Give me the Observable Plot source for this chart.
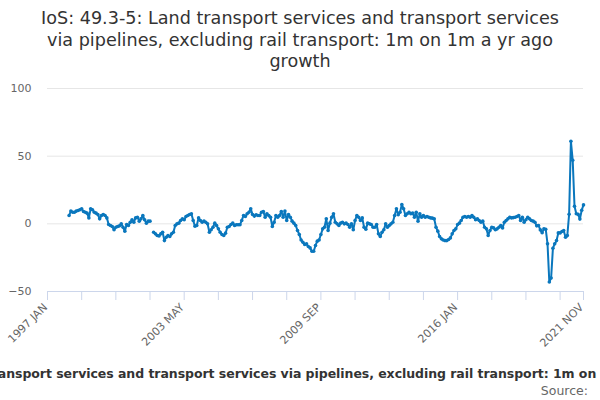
<!DOCTYPE html>
<html>
<head>
<meta charset="utf-8">
<script src="https://cdn.jsdelivr.net/npm/d3@7"></script>
<script src="https://cdn.jsdelivr.net/npm/@observablehq/plot@0.6"></script>
<style>
  html, body { margin: 0; padding: 0; background: #fff; }
  body { width: 600px; height: 400px; position: relative; overflow: hidden; font-family: "DejaVu Sans", sans-serif; }
  #title { position: absolute; top: 8px; left: 0; width: 600px; text-align: center; font-size: 17.6px; line-height: 21.5px; color: #333; }
  #chart { position: absolute; top: 75px; left: 0; }
  #caption { position: absolute; top: 366px; left: 0; width: 600px; display: flex; justify-content: center; overflow: hidden; white-space: nowrap; font-size: 12.5px; letter-spacing: -0.05px; font-weight: bold; color: #333; }
  #caption span { flex: none; }
  #source { position: absolute; top: 383px; right: 12px; font-size: 12.5px; color: #666; }
</style>
</head>
<body>
<div id="title">IoS: 49.3-5: Land transport services and transport services<br>via pipelines, excluding rail transport: 1m on 1m a yr ago<br>growth</div>
<div id="chart"></div>
<div id="caption"><span>IoS: 49.3-5: Land transport services and transport services via pipelines, excluding rail transport: 1m on 1m a yr ago growth</span></div>
<div id="source">Source:</div>
<script>
const startYear = 1997;
const monthNames = ["JAN","FEB","MAR","APR","MAY","JUN","JUL","AUG","SEP","OCT","NOV","DEC"];
const tickLabels = ["1997 JAN","2003 MAY","2009 SEP","2016 JAN","2021 NOV"];
const yTicks = [-50, 0, 50, 100];

// 1m on 1m a yr ago growth (%), one row per year from 1997 JAN to 2021 NOV
const values = [
  null, null, null, null, null, null, null, null, null, null, null, null,          // 1997
  6.2, 9.4, 8.6, 8.6, 9.4, 9.9, 10.4, 11.1, 9.1, 8.6, 7.9, 4.4,                    // 1998
  11.1, 10.4, 8.6, 7.9, 6.9, 3.7, 6.2, 6.9, 6.2, 4.4, -0.5, -1.2,                  // 1999
  -2, -4.4, -2.5, -2, -1.5, 0, -2.5, -5.4, -0.5, -1.2, 1.2, 3,                     // 2000
  1.2, 4.4, 4.9, 2, 3.7, 6.2, 3, 0.5, 2, 2, null, -6.2,                            // 2001
  -7.4, -8.6, -8.9, -7.4, -6.2, -12.4, -9.9, -8.6, -9.4, -7.4, -6.2, -1.2,         // 2002
  0, 0.5, 2.5, 3.7, 3, 5.4, 6.2, 6.9, 7.4, 2.5, -1.7, -1.2,                        // 2003
  4.4, 2.5, 1.2, 2, 1.2, 0, -6.2, -4.4, -2.5, 0.5, -1.2, -3.7,                     // 2004
  -6.2, -7.9, -8.6, -6.9, -2.5, -2, -0.5, 0.5, -1.2, -0.7, -0.7, -0.7,             // 2005
  2.5, 6.2, 5.4, 7.4, 8.6, 11.1, 6.9, 5.7, 6.7, 6.2, 6.2, 8.6,                     // 2006
  9.1, 4.9, 7.4, 6.2, 4.9, -2, 1.2, 6.2, 4.9, 6.2, 9.1, 4.9,                       // 2007
  9.4, 2.5, 6.9, 4.9, 2, 0.5, -1.2, -4.9, -7.9, -12, -13.6, -15.3,                 // 2008
  -14.8, -16.8, -17.8, -20.3, -20.3, -16, -12.8, -11.9, -7.9, -3.7, -2.5, 3.7,     // 2009
  -4.9, 0.5, 4.9, 7.4, 1.2, 0, -1.2, 0.5, 1.2, 0, 0.5, -0.5,                       // 2010
  -2.5, 0, -4.4, 2.5, 6.2, 4.9, 2.5, 4.4, -2.5, -4, 0.5, 0,                        // 2011
  -0.5, -2.5, -2.5, -0.5, -7.4, -9.4, -6.2, -4.4, 0, -2.5, -1.2, 0,                // 2012
  1.2, 6.2, 11.1, 6.7, 8.6, 14.3, 11.1, 6.2, 7.4, 8.6, 7.4, 7.9,                   // 2013
  4.9, 8.6, 2, 7.4, 4.9, 6.2, 4.9, 5.4, 4.9, 4.4, 4.2, 3.7,                        // 2014
  -2.5, -5.4, -9.4, -11.1, -11.9, -12.4, -12.4, -11.6, -10.4, -7.4, -4.9, -3.7,    // 2015
  -0.5, 0.5, 2.5, 4.9, 5.4, 4.9, 5.4, 4.9, 6.2, 4.9, 3, 3.7,                       // 2016
  2.5, 1.2, 2, -2.5, -3.7, -8.6, -4.9, -2.5, -3, -4.4, -3.7, -2.5,                 // 2017
  -1.2, -3, 1.2, 2.5, 3.7, 4.9, 4.4, 4.6, 4.9, 5.4, 6.2, 2.5,                      // 2018
  4.9, 1.2, 3, 4.9, 3.7, 2.5, 2, 1.2, -1.5, -1.2, -4.5, -6.5,                      // 2019
  -3.7, -4, -14.8, -43, -40, -18, -14.8, -12.4, -6.7, -6.7, -5.7, -5,              // 2020
  -9.9, -8.7, 7, 61, 47, 13, 7.5, 7, 3.5, 10, 14                                   // 2021
];

const labels = values.map((_, i) => `${startYear + Math.floor(i / 12)} ${monthNames[i % 12]}`);
const data = values.map((v, i) => ({label: labels[i], value: v}));
const tickMarks = labels.filter((_, i) => i % 19 === 0 || i === labels.length - 1);

const color = "#0a77bd";

const chart = Plot.plot({
  width: 600,
  height: 280,
  marginTop: 13,
  marginBottom: 64,
  marginLeft: 47,
  marginRight: 17,
  style: {fontFamily: "DejaVu Sans, sans-serif", fontSize: "11px", background: "white"},
  x: {type: "point", domain: labels, padding: 0},
  y: {domain: [-50, 100]},
  marks: [
    Plot.gridY([0, 50, 100], {stroke: "#e6e6e6", strokeOpacity: 1}),
    Plot.ruleY([-50], {stroke: "#ccd6eb"}),
    Plot.axisY(yTicks, {tickSize: 0, tickPadding: 16, fill: "#666", label: null}),
    Plot.axisX(tickMarks, {tickSize: 9, stroke: "#ccd6eb", tickFormat: () => "", label: null}),
    Plot.axisX(tickLabels, {tickSize: 0, tickPadding: 14, tickRotate: -45, dx: -2, fill: "#666", label: null}),
    Plot.line(data, {x: "label", y: "value", stroke: color, strokeWidth: 2}),
    Plot.dot(data.filter(d => d.value != null), {x: "label", y: "value", r: 1.8, fill: color})
  ]
});
document.getElementById("chart").appendChild(chart);
</script>
</body>
</html>
